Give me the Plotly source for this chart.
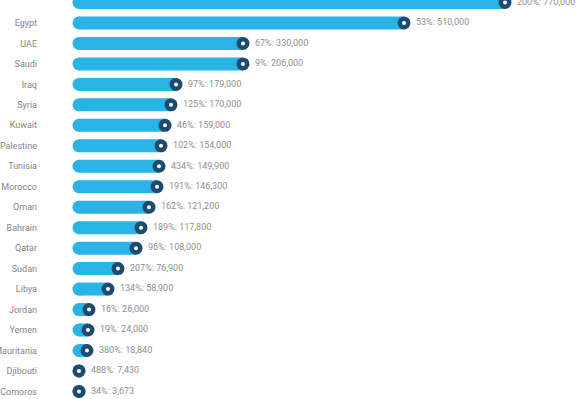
import plotly.graph_objects as go

# Countries, top to bottom
countries = ["Algeria", "Egypt", "UAE", "Saudi", "Iraq", "Syria", "Kuwait", "Palestine",
             "Tunisia", "Morocco", "Oman", "Bahrain", "Qatar", "Sudan", "Libya", "Jordan",
             "Yemen", "Mauritania", "Djibouti", "Comoros"]

# Bar length index shown for each country
bar_len = [426, 325, 164, 164, 97, 92, 86, 82, 80, 78, 70, 62, 57, 39, 29, 10, 9, 8, 0, 0]

# Label parts: percentage and count
pct = ["200%", "53%", "67%", "9%", "97%", "125%", "46%", "102%", "434%", "191%", "162%",
       "189%", "96%", "207%", "134%", "16%", "19%", "380%", "488%", "34%"]
counts = ["770,000", "510,000", "330,000", "206,000", "179,000", "170,000", "159,000",
          "154,000", "149,900", "146,300", "121,200", "117,800", "108,000", "76,900",
          "58,900", "26,000", "24,000", "18,840", "7,430", "3,673"]

BAR = "#2ab4e6"
DOT = "#1d4a6e"

ys = list(range(len(countries)))

# Thick segments for the bars
seg_x, seg_y = [], []
for y, v in zip(ys, bar_len):
    seg_x += [0, v, None]
    seg_y += [y, y, None]

fig = go.Figure()
fig.add_trace(go.Scatter(x=seg_x, y=seg_y, mode="lines",
                         line=dict(color=BAR, width=13), hoverinfo="skip"))
# Rounded start caps
fig.add_trace(go.Scatter(x=[0] * len(ys), y=ys, mode="markers",
                         marker=dict(color=BAR, size=13, line=dict(width=0)),
                         hoverinfo="skip"))
# End knobs: dark disc with a white centre
fig.add_trace(go.Scatter(x=bar_len, y=ys, mode="markers",
                         marker=dict(color=DOT, size=13, line=dict(width=0)),
                         hoverinfo="skip"))
fig.add_trace(go.Scatter(x=bar_len, y=ys, mode="markers",
                         marker=dict(color="white", size=4, line=dict(width=0)),
                         hoverinfo="skip"))
# Value labels to the right of each knob
fig.add_trace(go.Scatter(x=[v + 12 for v in bar_len], y=ys, mode="text",
                         text=[f"{p}: {c}" for p, c in zip(pct, counts)],
                         textposition="middle right",
                         textfont=dict(family="Roboto", size=9, color="#8f8f8f"),
                         hoverinfo="skip"))

fig.update_layout(
    width=582, height=399,
    margin=dict(l=60, r=0, t=0, b=0),
    paper_bgcolor="white", plot_bgcolor="white",
    showlegend=False,
    xaxis=dict(range=[-19, 503], visible=False, fixedrange=True),
    yaxis=dict(range=[(399 - 2.5) / 20.47, -2.5 / 20.47], tickmode="array",
               tickvals=ys, ticktext=countries, showgrid=False, zeroline=False,
               showline=False, ticks="", ticklabelstandoff=22, automargin=False,
               tickfont=dict(family="Roboto", size=9, color="#858585")),
)

fig.write_html("out.html")
